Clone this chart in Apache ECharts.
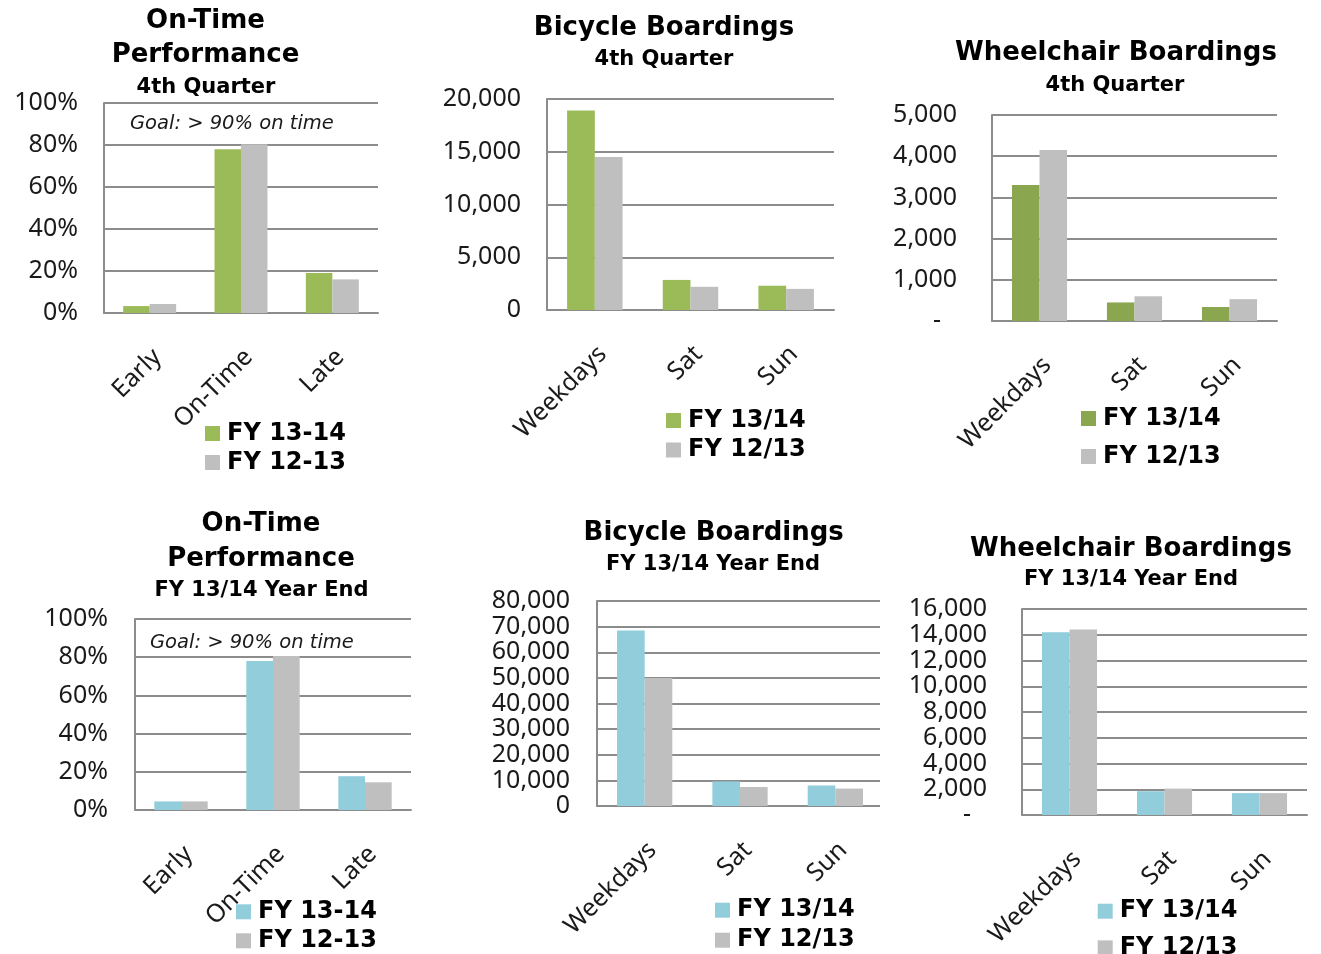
<!DOCTYPE html>
<html>
<head>
<meta charset="utf-8">
<title>On-Time Performance, Bicycle and Wheelchair Boardings</title>
<script src="https://cdn.jsdelivr.net/npm/echarts@6/dist/echarts.min.js"></script>
<style>
html, body { margin: 0; padding: 0; background: #fff; }
#page { position: relative; width: 1321px; height: 954px; overflow: hidden; }
.panel { position: absolute; }
</style>
</head>
<body>
<div id="page">
  <div id="c1" class="panel" style="left:0;top:0;width:440px;height:480px"></div>
  <div id="c2" class="panel" style="left:440px;top:0;width:440px;height:480px"></div>
  <div id="c3" class="panel" style="left:880px;top:0;width:441px;height:480px"></div>
  <div id="c4" class="panel" style="left:0;top:480px;width:440px;height:520px"></div>
  <div id="c5" class="panel" style="left:440px;top:480px;width:440px;height:520px"></div>
  <div id="c6" class="panel" style="left:880px;top:480px;width:441px;height:520px"></div>
</div>
<script>
// categories
var perfCats = ['Early', 'On-Time', 'Late'];
var dayCats = ['Weekdays', 'Sat', 'Sun'];

// legend names
var perfNames = ['FY 13-14', 'FY 12-13'];
var dayNames = ['FY 13/14', 'FY 12/13'];

// 4th quarter
var q4PerfCur = [3.3, 78, 19];
var q4PerfPrev = [4.3, 80.3, 16];
var q4BikeCur = [18900, 2850, 2300];
var q4BikePrev = [14500, 2200, 2000];
var q4ChairCur = [3300, 450, 340];
var q4ChairPrev = [4150, 600, 530];

// year end
var yePerfCur = [4.5, 78, 17.7];
var yePerfPrev = [4.5, 80.6, 14.5];
var yeBikeCur = [68500, 9600, 8000];
var yeBikePrev = [50000, 7400, 6800];
var yeChairCur = [14200, 1850, 1700];
var yeChairPrev = [14400, 2050, 1700];

// y axis ranges [max, step]
var perfTicks = [100, 20];
var q4BikeTicks = [20000, 5000];
var q4ChairTicks = [5000, 1000];
var yeBikeTicks = [80000, 10000];
var yeChairTicks = [16000, 2000];

var GREEN = '#9bbb59', DARK_GREEN = '#8aa64e', BLUE = '#92cddc', GRAY = '#bfbfbf';
var LINE = '#8c8c8c', TXT = '#1a1a1a';
var BIG = 'bold 26px "DejaVu Sans"', SUB = 'bold 21px "DejaVu Sans"';

function pct(v) { return v + '%'; }
function num(v) { return v.toLocaleString('en-US'); }
function numDash(v) { return v === 0 ? '{d|-}' : num(v); }

function makeChart(id, ox, oy, c) {
    var chart = echarts.init(document.getElementById(id));
    var graphics = c.titles.map(function (t) {
        return {
            type: 'text', x: t[1] - ox, y: t[2] - oy + 3,
            style: { text: t[0], font: t[3], fill: '#000', align: 'center', verticalAlign: 'middle' }
        };
    });
    if (c.goal) {
        graphics.push({
            type: 'text', x: c.goal[0] - ox, y: c.goal[1] - oy + 1,
            style: { text: 'Goal: > 90% on time', font: 'italic 19.5px "DejaVu Sans"', fill: TXT, align: 'left', verticalAlign: 'middle' }
        });
    }
    chart.setOption({
        animation: false,
        textStyle: { fontFamily: 'Noto Sans' },
        grid: {
            left: c.grid[0] - ox, top: c.grid[1] - oy, width: c.grid[2], height: c.grid[3],
            containLabel: false, outerBoundsMode: 'none'
        },
        xAxis: {
            type: 'category', data: c.cats,
            axisLine: { lineStyle: { color: LINE, width: 2 } },
            axisTick: { show: false },
            axisLabel: {
                interval: 0, rotate: 45, margin: 48, padding: [0, -11, 0, 0],
                fontSize: 25, fontFamily: 'Noto Sans', color: TXT
            }
        },
        yAxis: {
            type: 'value', min: 0, max: c.ticks[0], interval: c.ticks[1],
            axisLine: { show: true, lineStyle: { color: LINE, width: 2 } },
            axisTick: { show: false },
            splitLine: { lineStyle: { color: LINE, width: 2 } },
            axisLabel: {
                margin: c.labelMargin, fontSize: 25, fontFamily: 'Noto Sans', color: TXT,
                formatter: c.fmt,
                rich: { d: { fontSize: 25, fontFamily: 'Noto Sans', color: TXT, padding: [0, 16, 0, 0] } }
            }
        },
        legend: {
            orient: 'vertical', left: c.legend[0] - ox, top: c.legend[1] - oy + 1,
            padding: 0, itemGap: c.legend[2], itemWidth: 15, itemHeight: 15, icon: 'rect',
            selectedMode: false,
            textStyle: { fontFamily: 'DejaVu Sans', fontWeight: 'bold', fontSize: 24, lineHeight: 24, color: '#000', padding: [0, 0, 0, 2] },
            data: [
                { name: c.names[0], itemStyle: { color: c.colors[0] } },
                { name: c.names[1], itemStyle: { color: c.colors[1] } }
            ]
        },
        series: [
            { type: 'bar', name: c.names[0], data: c.cur, barGap: '0%', barCategoryGap: '42%', itemStyle: { color: c.colors[0] }, emphasis: { disabled: true } },
            { type: 'bar', name: c.names[1], data: c.prev, barGap: '0%', barCategoryGap: '42%', itemStyle: { color: c.colors[1] }, emphasis: { disabled: true } }
        ],
        graphic: graphics
    });
    return chart;
}

makeChart('c1', 0, 0, {
    titles: [['On-Time', 205.5, 18, BIG], ['Performance', 205.5, 52, BIG], ['4th Quarter', 206, 85, SUB]],
    goal: [130, 123],
    grid: [104, 103, 274, 210], labelMargin: 26,
    cats: perfCats, names: perfNames, colors: [GREEN, GRAY],
    cur: q4PerfCur, prev: q4PerfPrev, ticks: perfTicks, fmt: pct,
    legend: [205, 420.5, 5]
});

makeChart('c2', 440, 0, {
    titles: [['Bicycle Boardings', 664, 25, BIG], ['4th Quarter', 664, 57, SUB]],
    grid: [547, 99, 287, 211], labelMargin: 26,
    cats: dayCats, names: dayNames, colors: [GREEN, GRAY],
    cur: q4BikeCur, prev: q4BikePrev, ticks: q4BikeTicks, fmt: num,
    legend: [666, 407.5, 5.5]
});

makeChart('c3', 880, 0, {
    titles: [['Wheelchair Boardings', 1116, 50.5, BIG], ['4th Quarter', 1115, 83, SUB]],
    grid: [992, 115, 285, 206], labelMargin: 35,
    cats: dayCats, names: dayNames, colors: [DARK_GREEN, GRAY],
    cur: q4ChairCur, prev: q4ChairPrev, ticks: q4ChairTicks, fmt: numDash,
    legend: [1081, 405.5, 14]
});

makeChart('c4', 0, 480, {
    titles: [['On-Time', 261, 521.7, BIG], ['Performance', 261, 556.7, BIG], ['FY 13/14 Year End', 261.5, 588, SUB]],
    goal: [150, 641.7],
    grid: [135, 619, 276, 191], labelMargin: 27,
    cats: perfCats, names: perfNames, colors: [BLUE, GRAY],
    cur: yePerfCur, prev: yePerfPrev, ticks: perfTicks, fmt: pct,
    legend: [236, 898.8, 5]
});

makeChart('c5', 440, 480, {
    titles: [['Bicycle Boardings', 713.7, 530.7, BIG], ['FY 13/14 Year End', 713, 562, SUB]],
    grid: [597, 601, 286, 205], labelMargin: 27,
    cats: dayCats, names: dayNames, colors: [BLUE, GRAY],
    cur: yeBikeCur, prev: yeBikePrev, ticks: yeBikeTicks, fmt: num,
    legend: [715, 897.2, 6]
});

makeChart('c6', 880, 480, {
    titles: [['Wheelchair Boardings', 1131, 546, BIG], ['FY 13/14 Year End', 1131, 576.3, SUB]],
    grid: [1022, 609, 285, 206], labelMargin: 35,
    cats: dayCats, names: dayNames, colors: [BLUE, GRAY],
    cur: yeChairCur, prev: yeChairPrev, ticks: yeChairTicks, fmt: numDash,
    legend: [1097.7, 898.2, 12.7]
});
</script>
</body>
</html>
